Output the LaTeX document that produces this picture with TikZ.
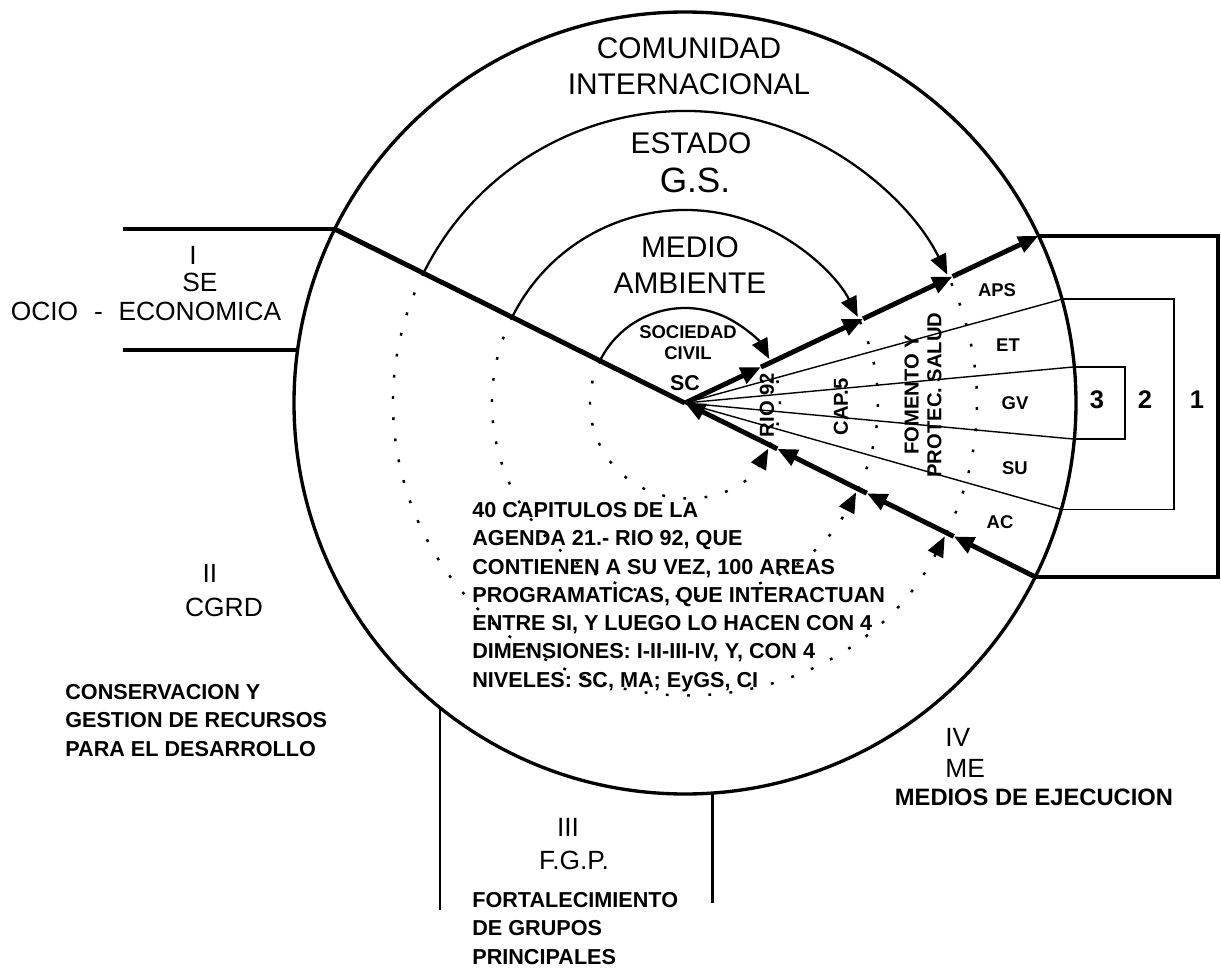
\documentclass[tikz,border=0pt]{standalone}
\usepackage{fontspec}
\setmainfont{Liberation Sans}
\usetikzlibrary{arrows.meta}
\begin{document}
\begin{tikzpicture}[x=0.2mm, y=0.2mm,
    ring/.style = {line width=1.3pt},
    axis/.style = {line width=2.8pt},
    ray/.style = {line width=0.8pt},
    frame/.style = {line width=1.9pt},
    dots/.style = {line width=1.4pt, dash pattern=on 1.6pt off 10.5pt},
    tip/.style = {-{Triangle[length=11.5pt, width=9.5pt]}},
    big/.style = {font=\fontsize{17}{20.4}\selectfont, align=center},
    mid/.style = {font=\fontsize{15}{17}\selectfont},
    txt/.style = {font=\bfseries\fontsize{12.3}{16.1}\selectfont, align=left, inner sep=0pt, anchor=north west},
    lab/.style = {font=\bfseries\fontsize{10.5}{11.9}\selectfont},
    rot/.style = {font=\bfseries\fontsize{11.5}{13}\selectfont, rotate=90}]
  \useasboundingbox (-685,-568) rectangle (536,403);
  \coordinate (O) at (0,0);
  % circulo exterior y ejes
  \draw[frame] (O) circle[radius=391];
  \coordinate (d) at (153.6:391);
  \coordinate (u1) at (25.3:84);
  \coordinate (u2) at (25.3:197);
  \coordinate (u3) at (25.3:296);
  \coordinate (u4) at (25.3:391);
  \coordinate (l1) at (-26.4:103);
  \coordinate (l2) at (-26.4:203);
  \coordinate (l3) at (-26.4:300);
  \coordinate (l4) at (-26.4:391);
  \draw[axis] (d) -- (O);
  \draw[axis, tip] (O) -- (u1);
  \draw[axis, tip] (u1) -- (u2);
  \draw[axis, tip] (u2) -- (u3);
  \draw[axis, tip] (u3) -- (u4);
  \draw[axis, tip] (l4) -- (l3);
  \draw[axis, tip] (l3) -- (l2);
  \draw[axis, tip] (l2) -- (l1);
  \draw[axis, tip] (l1) -- (O);
  % niveles
  \foreach \r/\a/\b in {95/27.7/331.2, 193/26.5/332.4, 292/26.1/332.8} {
    \draw[ring, tip] (153.6:\r) arc[start angle=153.6, end angle=\a, radius=\r];
    \draw[dots, tip] (153.6:\r) arc[start angle=153.6, end angle=\b, radius=\r];
    \draw[dots] (-26.4:\r) arc[start angle=-26.4, end angle=25.3, radius=\r];
  }
  % abanico
  \foreach \a/\n in {15.4/f1, 5.3/f2, -5.3/f3, -15.8/f4}
    \coordinate (\n) at (\a:391);
  \foreach \n in {f1, f2, f3, f4}
    \draw[ray] (O) -- (\n);
  % recuadros
  \coordinate (r1) at (533,0);
  \coordinate (r2) at (489,0);
  \coordinate (r3) at (440,0);
  \draw[frame] (u4) -- (u4 -| r1) -- (l4 -| r1) -- (l4);
  \draw[line width=1pt] (f1) -- (f1 -| r2) -- (f4 -| r2) -- (f4);
  \draw[line width=1pt] (f2) -- (f2 -| r3) -- (f3 -| r3) -- (f3);
  \coordinate (w) at (-562,0);
  \coordinate (s) at (172.2:391);
  \draw[frame] (d) -- (d -| w);
  \draw[frame] (s) -- (s -| w);
  \coordinate (g1) at (231.2:391);
  \coordinate (g2) at (274:391);
  \draw[line width=1.4pt] (g1) -- ++(0,-202);
  \draw[line width=1.4pt] (g2) -- ++(0,-110);
  % textos
  \node[big] (ci) at (4,337) {COMUNIDAD\\INTERNACIONAL};
  \node[big] (est) at (6,260) {ESTADO};
  \node[font=\fontsize{20}{24}\selectfont] (gs) at (10,223) {G.S.};
  \node[big] (ma) at (5,138) {MEDIO\\AMBIENTE};
  \node[lab, align=center] (soc) at (3,60) {SOCIEDAD\\CIVIL};
  \node[font=\bfseries\fontsize{12.2}{14}\selectfont] (sc) at (0,20) {SC};
  \node[lab] (aps) at (312,113) {APS};
  \node[lab] (et) at (323,58) {ET};
  \node[lab] (gv) at (330,0) {GV};
  \node[lab] (su) at (330,-65) {SU};
  \node[lab] (ac) at (315,-119) {AC};
  \node[rot] (rio) at (82,-2) {RIO 92};
  \node[rot] (cap) at (156,-4) {CAP.5};
  \node[rot, align=center] (fom) at (238,8) {FOMENTO Y\\PROTEC. SALUD};
  \node[font=\bfseries\fontsize{14.5}{16}\selectfont] (n3) at (412,3) {3};
  \node[font=\bfseries\fontsize{14.5}{16}\selectfont] (n2) at (460,3) {2};
  \node[font=\bfseries\fontsize{14.5}{16}\selectfont] (n1) at (512,3) {1};
  \node[mid] (d1) at (-492,148) {I};
  \node[mid] (se) at (-485,121) {SE};
  \node[mid] (soe) at (-539,92) {OCIO\hspace{0.6em}-\hspace{0.6em}ECONOMICA};
  \node[mid] (d2) at (-475,-170) {II};
  \node[mid] (cg) at (-461,-204) {CGRD};
  \node[txt] (cons) at (-620,-281) {CONSERVACION Y\\GESTION DE RECURSOS\\PARA EL DESARROLLO};
  \node[txt] (agenda) at (-213,-99) {40 CAPITULOS DE LA\\AGENDA 21.- RIO 92, QUE\\CONTIENEN A SU VEZ, 100 AREAS\\PROGRAMATICAS, QUE INTERACTUAN\\ENTRE SI, Y LUEGO LO HACEN CON 4\\DIMENSIONES: I-II-III-IV, Y, CON 4\\NIVELES: SC, MA; EyGS, CI};
  \node[mid] (d3) at (-117,-424) {III};
  \node[mid] (fgp) at (-111,-457) {F.G.P.};
  \node[txt] (fort) at (-213,-489) {FORTALECIMIENTO\\DE GRUPOS\\PRINCIPALES};
  \node[mid, anchor=west, inner sep=0pt] (d4) at (260,-334) {IV};
  \node[mid, anchor=west, inner sep=0pt] (me) at (260,-365) {ME};
  \node[font=\bfseries\fontsize{13.5}{15}\selectfont] (mde) at (349,-394) {MEDIOS DE EJECUCION};
\end{tikzpicture}
\end{document}
